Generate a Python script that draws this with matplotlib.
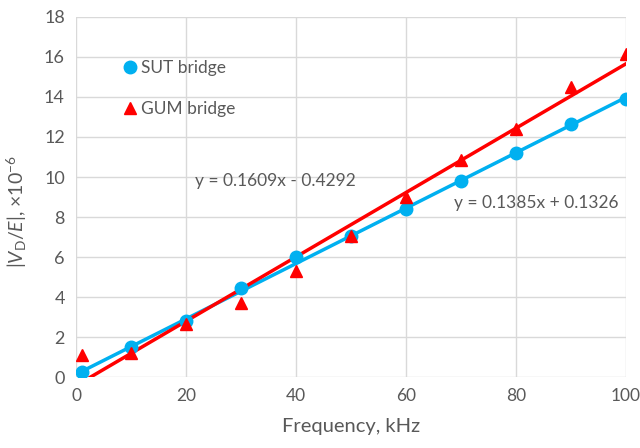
import matplotlib
matplotlib.use("Agg")
import matplotlib.pyplot as plt
import numpy as np

freq = [1, 10, 20, 30, 40, 50, 60, 70, 80, 90, 100]
sut = [0.25, 1.5, 2.8, 4.45, 6.0, 7.05, 8.4, 9.8, 11.2, 12.65, 13.9]
gum = [1.1, 1.2, 2.65, 3.7, 5.3, 7.05, 9.0, 10.85, 12.4, 14.5, 16.15]
sut_fit = (0.1385, 0.1326)
gum_fit = (0.1609, -0.4292)
sut_eq = "y = 0.1385x + 0.1326"
gum_eq = "y = 0.1609x - 0.4292"

plt.rcParams['font.family'] = ['Lato', 'DejaVu Sans']
plt.rcParams['mathtext.fontset'] = 'custom'
plt.rcParams['mathtext.rm'] = 'Lato'
plt.rcParams['mathtext.it'] = 'Lato:italic'

gray = '#595959'
blue = '#00B0F0'
red = '#FF0000'

fig = plt.figure(figsize=(6.4, 4.48), dpi=100)
ax = fig.add_axes([76/640, 1-377/448, (626-76)/640, (377-17)/448])

xs = np.array([freq[0], freq[-1]])
ax.plot(xs, sut_fit[0]*xs + sut_fit[1], color=blue, lw=2.5, zorder=3)
ax.plot(xs, gum_fit[0]*xs + gum_fit[1], color=red, lw=2.5, zorder=3)
ax.plot(freq, sut, 'o', color=blue, ms=9, label='SUT bridge', zorder=4)
ax.plot(freq, gum, '^', color=red, ms=9, label='GUM bridge', zorder=5)

ax.set_xlim(0, 100)
ax.set_ylim(0, 18)
ax.set_xticks(range(0, 101, 20))
ax.set_yticks(range(0, 19, 2))
ax.grid(True, color='#D9D9D9', lw=1)
ax.set_axisbelow(True)
for s in ax.spines.values():
    s.set_visible(False)
ax.tick_params(length=0, labelsize=13, colors=gray, pad=8)
ax.tick_params(axis='x', labelsize=12.5)

ax.set_xlabel('Frequency, kHz', fontsize=14.5, color=gray, labelpad=10)
ax.set_ylabel(r'$|V_\mathrm{D}/E|$, ×10$^{-6}$', fontsize=14, color=gray, labelpad=6)
ax.yaxis.set_label_coords(-0.085, 0.46)

ax.text(21.6, 9.8, gum_eq, fontsize=12.5, color=gray, va='center', ha='left')
ax.text(68.8, 8.7, sut_eq, fontsize=12.5, color=gray, va='center', ha='left')

leg = ax.legend(loc='upper left', bbox_to_anchor=(0.05, 0.925), frameon=False,
                fontsize=12.5, handletextpad=0.05, labelspacing=1.45, handlelength=1.2)
for t in leg.get_texts():
    t.set_color(gray)

fig.savefig('out.png', dpi=100)
